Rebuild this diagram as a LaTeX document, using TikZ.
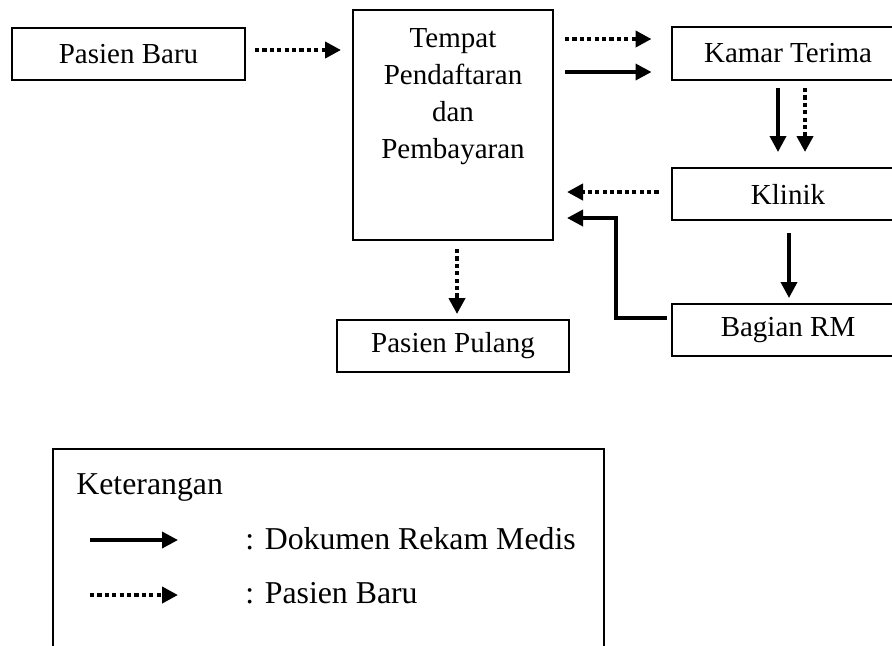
\documentclass[tikz,border=0pt]{standalone}
\usepackage{fontspec}
\setmainfont{Liberation Serif}
\usetikzlibrary{arrows.meta,calc}
\begin{document}
\begin{tikzpicture}[x=0.5pt,y=-0.5pt,
  diafont/.style={font=\fontsize{14.5}{18.5}\selectfont},
  legfont/.style={font=\fontsize{15.9}{19}\selectfont},
  box/.style={draw,line width=1pt,minimum width=116.5pt,minimum height=26pt,inner sep=0pt,diafont},
  dok/.style={line width=1.8pt,-{Triangle[length=8pt,width=8pt]}},
  pasien/.style={line width=2.2pt,dash pattern=on 2.1pt off 1.6pt,-{Triangle[length=8pt,width=8pt]}}]
\useasboundingbox (0,0) rectangle (892,645);
\clip (0,0) rectangle (892,645);
% nodes
\node[box] (pb) at (128.5,54) {Pasien Baru};
\node[box,minimum width=100pt,minimum height=115pt] (tempat) at (453,125) {};
\node[anchor=north,inner sep=0pt,align=center,diafont] (tempattext) at (453,28) {Tempat\\Pendaftaran\\dan\\Pembayaran};
\node[box,minimum height=26.5pt] (kamar) at (788,53.5) {Kamar Terima};
\node[box] (klinik) at (788,194) {Klinik};
\node[box] (bagian) at (788,330) {Bagian RM};
\node[box,minimum width=116pt] (pulang) at (453,346) {Pasien Pulang};
% connectors
\draw[pasien] ($(pb.east)+(4.5pt,2pt)$) -- ($(pb.east -| tempat.west)+(-5.5pt,2pt)$);
\draw[pasien] ($(tempat.east |- kamar.west)+(5.5pt,7.25pt)$) -- ($(kamar.west)+(-9.5pt,7.25pt)$);
\draw[dok] ($(tempat.east |- kamar.west)+(5.5pt,-9.25pt)$) -- ($(kamar.west)+(-9.5pt,-9.25pt)$);
\draw[dok] ($(kamar.south)+(-5pt,-3.5pt)$) -- ($(kamar.south |- klinik.north)+(-5pt,7.5pt)$);
\draw[pasien] ($(kamar.south)+(8.5pt,-3.5pt)$) -- ($(kamar.south |- klinik.north)+(8.5pt,7.5pt)$);
\draw[pasien] ($(klinik.west)+(-6pt,1pt)$) -- ($(tempat.east |- klinik.west)+(6.5pt,1pt)$);
\draw[dok] ($(klinik.south)+(0.5pt,-6pt)$) -- ($(bagian.north)+(0.5pt,2.5pt)$);
\draw[dok] ($(bagian.west)+(-2pt,6pt)$) -| ($(tempat.east)+(31pt,-46.5pt)$) -- ($(tempat.east)+(6.5pt,-46.5pt)$);
\draw[pasien] ($(tempat.south)+(2pt,-4pt)$) -- ($(pulang.north)+(2pt,2.5pt)$);
% legend
\node[draw,line width=1pt,minimum width=275.5pt,minimum height=106pt,anchor=north west,inner sep=0pt] (legend) at (52,448) {};
\node[anchor=base west,inner sep=0pt,legfont] (ket) at (76,494) {Keterangan};
\node[anchor=base west,inner sep=0pt,legfont] (ldok) at (245,549) {: Dokumen Rekam Medis};
\node[anchor=base west,inner sep=0pt,legfont] (lpas) at (245,603) {: Pasien Baru};
\coordinate (l1a) at (90,540);
\coordinate (l1b) at (178,540);
\coordinate (l2a) at (90,595);
\coordinate (l2b) at (178,595);
\draw[dok] (l1a) -- (l1b);
\draw[pasien] (l2a) -- (l2b);
\end{tikzpicture}
\end{document}
